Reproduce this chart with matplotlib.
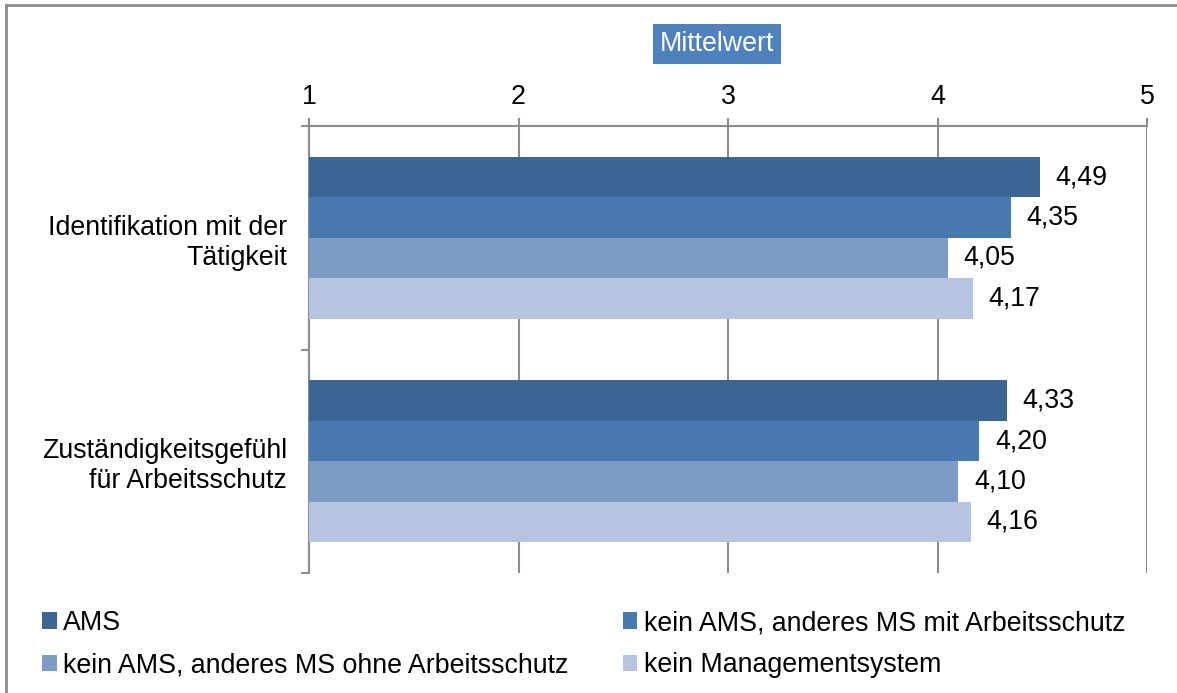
import matplotlib.pyplot as plt
from matplotlib.patches import Patch
from matplotlib.lines import Line2D

plt.rcParams['font.family'] = ['Liberation Sans', 'DejaVu Sans']

# Data
categories = ['Identifikation mit der\nTätigkeit', 'Zuständigkeitsgefühl\nfür Arbeitsschutz']
series = ['AMS', 'kein AMS, anderes MS mit Arbeitsschutz',
          'kein AMS, anderes MS ohne Arbeitsschutz', 'kein Managementsystem']
ams = [4.49, 4.33]
mit_as = [4.35, 4.20]
ohne_as = [4.05, 4.10]
kein_ms = [4.17, 4.16]
x_ticks = [1, 2, 3, 4, 5]

colors = ['#3D6594', '#4878B0', '#7E9BC8', '#B5C5E0']
values = [ams, mit_as, ohne_as, kein_ms]
fs = 19.3

W, H = 1177, 693
fig = plt.figure(figsize=(W / 100, H / 100), dpi=100)
ax = fig.add_axes([309 / W, 1 - 573 / H, (1147 - 309) / W, (573 - 126) / H])

bar_h = 0.181
for i, (vals, col) in enumerate(zip(values, colors)):
    ys = [c + (i - 1.5) * bar_h for c in range(len(categories))]
    widths = [v - 1 for v in vals]
    ax.barh(ys, widths, left=1, height=bar_h, color=col, zorder=3)
    for y, v in zip(ys, vals):
        ax.text(v + 0.075, y, f'{v:.2f}'.replace('.', ','), va='center', ha='left',
                fontsize=fs, zorder=4)

ax.set_xlim(1, 5)
ax.set_ylim(1.5, -0.5)
ax.xaxis.tick_top()
ax.set_xticks(x_ticks)
ax.set_xticklabels([str(t) for t in x_ticks], fontsize=fs)
ax.tick_params(axis='x', direction='out', length=6, width=1.5, color='#8C8C8C', pad=5.5)
ax.grid(axis='x', color='#8C8C8C', linewidth=1.5, zorder=0)

ax.set_yticks(range(len(categories)))
ax.set_yticklabels(categories, fontsize=fs, ha='right', linespacing=1.2)
ax.tick_params(axis='y', which='major', length=0, pad=16)
ax.set_yticks([-0.5, 0.5, 1.5], minor=True)
ax.tick_params(axis='y', which='minor', direction='out', length=6, width=1.5, color='#8C8C8C')

for side in ['right', 'bottom']:
    ax.spines[side].set_visible(False)
for side in ['top', 'left']:
    ax.spines[side].set_color('#8C8C8C')
    ax.spines[side].set_linewidth(1.5)

# title box
fig.text(717 / W, 1 - 44 / H, 'Mittelwert', ha='center', va='center', fontsize=fs,
         color='white', bbox=dict(boxstyle='square,pad=0.25', facecolor='#4F81BD', edgecolor='none'))

# legend
handles = [Patch(facecolor=c, edgecolor='none') for c in colors]
order = [0, 2, 1, 3]
fig.legend([handles[i] for i in order], [series[i] for i in order], ncol=2,
           loc='upper left', bbox_to_anchor=(42 / W, 1 - 610 / H), frameon=False,
           fontsize=fs, handlelength=0.55, handleheight=0.55, handletextpad=0.25,
           columnspacing=2.0, labelspacing=0.6, borderaxespad=0, borderpad=0)

# outer frame (top and left edges visible)
fig.add_artist(Line2D([6 / W, 6 / W], [0, 1 - 5 / H], transform=fig.transFigure,
                      color='#8C8C8C', linewidth=2))
fig.add_artist(Line2D([6 / W, 1], [1 - 5 / H, 1 - 5 / H], transform=fig.transFigure,
                      color='#8C8C8C', linewidth=2))

fig.savefig('out.png', dpi=100)
